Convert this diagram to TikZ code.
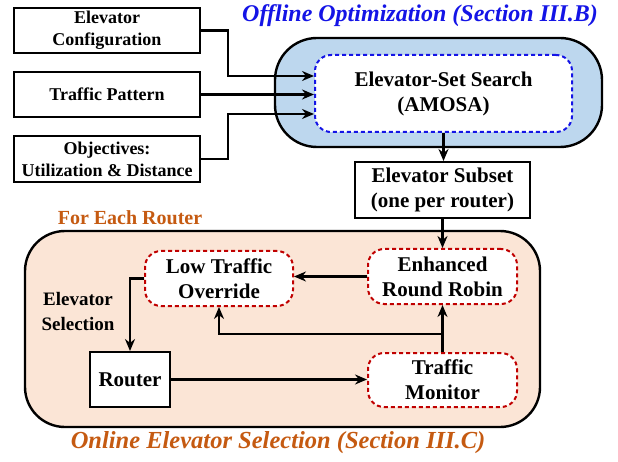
\documentclass[tikz,border=0pt]{standalone}
\usepackage{fontspec}
\setmainfont{Liberation Serif}
\usetikzlibrary{calc,arrows.meta}
\definecolor{tblue}{RGB}{20,20,230}
\definecolor{lblue}{RGB}{189,215,238}
\definecolor{peach}{RGB}{251,229,214}
\definecolor{orng}{RGB}{197,90,17}
\definecolor{dred}{RGB}{192,0,0}
\tikzset{
  inbox/.style={draw, line width=2pt, fill=white, align=center, font=\fontsize{18}{22}\selectfont\bfseries},
  mainbox/.style={draw, line width=2pt, fill=white, align=center, font=\fontsize{21}{25}\selectfont\bfseries},
  redbox/.style={draw=dred, dash pattern=on 4pt off 3pt, line width=2pt, rounded corners=16pt, fill=white, align=center, font=\fontsize{21}{25}\selectfont\bfseries},
  bluebox/.style={draw=tblue, dash pattern=on 4pt off 3pt, line width=2pt, rounded corners=16pt, fill=white, align=center, font=\fontsize{21}{25}\selectfont\bfseries},
  outer/.style={draw, line width=2.4pt, inner sep=0pt},
  arr/.style={line width=2.2pt, -{Stealth[length=12pt,width=10pt]}},
}
\begin{document}
\begin{tikzpicture}[x=1pt,y=-1pt]
\useasboundingbox (0,0) rectangle (618,462);
% outer containers
\node[outer, fill=lblue, rounded corners=42pt, minimum width=327pt, minimum height=109pt] (offl) at (438.5,92.5) {};
\node[outer, fill=peach, rounded corners=40pt, minimum width=515pt, minimum height=196pt] (onl) at (282.5,329) {};
% titles
\node[text=tblue, font=\fontsize{24}{28}\selectfont\bfseries\itshape] (t1) at (420,16) {Offline Optimization (Section III.B)};
\node[text=orng, font=\fontsize{20}{24}\selectfont\bfseries] (t2) at (130,218) {For Each Router};
\node[text=orng, font=\fontsize{24.5}{28}\selectfont\bfseries\itshape] (t3) at (278,443) {Online Elevator Selection (Section III.C)};
% inputs
\node[inbox, minimum width=186pt, minimum height=45pt] (cfg) at (107,30.5) {Elevator\\Configuration};
\node[inbox, minimum width=186pt, minimum height=45pt] (tp) at (107,94.5) {Traffic Pattern};
\node[inbox, minimum width=186pt, minimum height=46pt] (obj) at (107,159) {Objectives:\\Utilization \& Distance};
% offline
\node[bluebox, minimum width=257pt, minimum height=77pt] (ess) at (443.5,93.5) {Elevator-Set Search\\(AMOSA)};
\node[mainbox, minimum width=175pt, minimum height=56pt] (sub) at (442.5,190) {Elevator Subset\\(one per router)};
% online
\node[redbox, minimum width=148pt, minimum height=55pt] (lto) at (219,278.5) {Low Traffic\\Override};
\node[redbox, minimum width=149pt, minimum height=55pt] (err) at (442.5,276.5) {Enhanced\\Round Robin};
\node[redbox, minimum width=149pt, minimum height=54pt] (tm) at (442.5,380) {Traffic\\Monitor};
\node[mainbox, minimum width=80pt, minimum height=55pt] (rt) at (130,379.5) {Router};
\node[align=center, font=\fontsize{19}{25}\selectfont\bfseries] (lbl) at (78,312) {Elevator\\Selection};
% connectors
\draw[arr] (cfg.east) -- ++(27,0) |- ($(ess.west)+(0,-17.5)$);
\draw[arr] (tp.east) -- (tp.east -| ess.west);
\draw[arr] (obj.east) -- ++(27,0) |- ($(ess.west)+(0,20.5)$);
\draw[arr] (ess.south) -- (ess.south |- sub.north);
\draw[arr] (sub.south) -- (sub.south |- err.north);
\draw[arr] (err.west) -- (err.west -| lto.east);
\draw[arr] (lto.west) -| (rt.north);
\draw[arr] (tm.north) -- (err.south);
\draw[arr] ($(tm.north)+(0,-18)$) -| (lto.south);
\draw[arr] (rt.east) -- (rt.east -| tm.west);
\end{tikzpicture}
\end{document}
